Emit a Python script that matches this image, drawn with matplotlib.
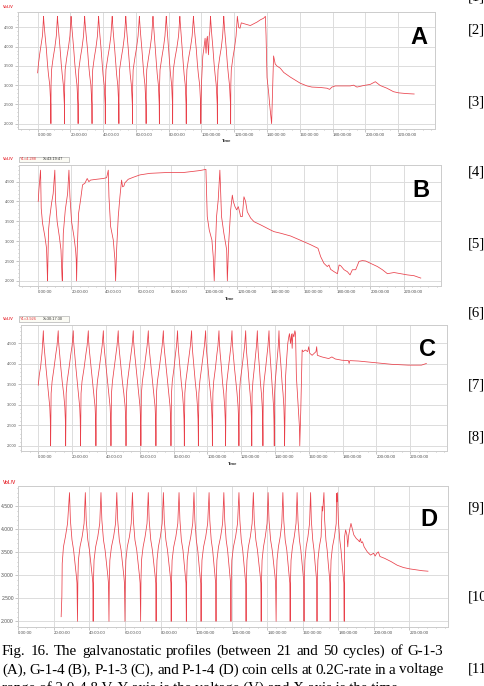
import matplotlib
matplotlib.use('Agg')
import matplotlib.pyplot as plt
import matplotlib.transforms as mtransforms
from matplotlib.patches import Rectangle
from matplotlib.ticker import MultipleLocator

# ---------------- data (time in hours, voltage in V) ----------------
a_time = [
    0.0, 0.5, 1.3, 2.3, 3.0, 3.6,
    3.8, 4.4, 5.3, 6.0, 6.6, 7.4, 7.8, 8.0, 8.1,
    8.2, 8.5, 9.5, 10.5, 11.4, 12.1,
    12.3, 12.9, 13.7, 14.4, 15.0, 15.7, 16.1, 16.3, 16.4,
    16.5, 16.8, 17.8, 18.8, 19.7, 20.4,
    20.6, 21.2, 22.0, 22.7, 23.3, 24.0, 24.4, 24.6, 24.7,
    24.8, 25.1, 26.1, 27.1, 28.0, 28.7,
    28.9, 29.5, 30.4, 31.1, 31.7, 32.5, 32.9, 33.1, 33.2,
    33.3, 33.6, 34.6, 35.6, 36.5, 37.2,
    37.4, 37.9, 38.7, 39.4, 39.9, 40.6, 41.0, 41.2, 41.3,
    41.4, 41.7, 42.8, 43.8, 44.7, 45.5,
    45.7, 46.2, 47.0, 47.7, 48.2, 48.9, 49.3, 49.5, 49.6,
    49.7, 50.0, 51.1, 52.1, 53.0, 53.8,
    54.0, 54.5, 55.3, 56.0, 56.5, 57.2, 57.6, 57.8, 57.9,
    58.0, 58.3, 59.4, 60.4, 61.3, 62.1,
    62.3, 62.8, 63.6, 64.3, 64.8, 65.5, 65.9, 66.1, 66.2,
    66.3, 66.6, 67.7, 68.7, 69.6, 70.4,
    70.6, 71.1, 71.8, 72.5, 73.0, 73.7, 74.0, 74.2, 74.3,
    74.4, 74.7, 75.8, 76.8, 77.7, 78.5,
    78.7, 79.2, 79.9, 80.6, 81.1, 81.8, 82.1, 82.3, 82.4,
    82.5, 82.8, 83.9, 85.0, 86.0, 86.8,
    87.0, 87.5, 88.2, 88.9, 89.4, 90.1, 90.4, 90.6, 90.7,
    90.8, 91.1, 92.2, 93.3, 94.3, 95.1,
    95.3, 95.9, 96.8, 97.5, 98.1, 98.9, 99.3, 99.5, 99.6,
    100.0, 100.8, 101.6, 102.2, 102.8, 103.2, 103.6, 104.3, 104.7, 105.1, 105.5,
    105.7, 106.2, 107.0, 107.7, 108.3, 109.0, 109.4, 109.6, 109.7,
    109.8, 110.1, 111.1, 112.1, 112.9, 113.6,
    113.8, 114.3, 115.1, 115.8, 116.4, 117.1, 117.5, 117.7, 117.8,
    117.9, 118.2, 119.2, 120.2, 121.1, 121.9,
    122.7, 123.5, 124.3, 125.8, 129.8, 133.9, 136.0, 137.9, 139.0,
    139.4, 140.0, 141.0, 141.6, 142.8,
    144.0, 145.0, 146.0, 148.1, 150.2, 154.2, 160.3, 164.4, 167.4, 172.5,
    176.6, 178.2, 179.6, 181.7, 184.7, 190.8, 192.8, 194.9, 198.9, 203.0,
    206.1, 209.1, 213.2, 217.2, 220.3, 225.4, 229.8]
a_volt = [
    3.32, 3.55, 3.82, 4.10, 4.30, 4.79,
    4.65, 4.35, 3.95, 3.55, 3.28, 3.00, 2.70, 2.50, 2.00,
    3.00, 3.40, 3.72, 3.98, 4.28, 4.79,
    4.65, 4.35, 3.95, 3.55, 3.28, 3.00, 2.70, 2.50, 2.00,
    3.00, 3.40, 3.72, 3.98, 4.28, 4.79,
    4.65, 4.35, 3.95, 3.55, 3.28, 3.00, 2.70, 2.50, 2.00,
    3.00, 3.40, 3.72, 3.98, 4.28, 4.79,
    4.65, 4.35, 3.95, 3.55, 3.28, 3.00, 2.70, 2.50, 2.00,
    3.00, 3.40, 3.72, 3.98, 4.28, 4.79,
    4.65, 4.35, 3.95, 3.55, 3.28, 3.00, 2.70, 2.50, 2.00,
    3.00, 3.40, 3.72, 3.98, 4.28, 4.79,
    4.65, 4.35, 3.95, 3.55, 3.28, 3.00, 2.70, 2.50, 2.00,
    3.00, 3.40, 3.72, 3.98, 4.28, 4.79,
    4.65, 4.35, 3.95, 3.55, 3.28, 3.00, 2.70, 2.50, 2.00,
    3.00, 3.40, 3.72, 3.98, 4.28, 4.79,
    4.65, 4.35, 3.95, 3.55, 3.28, 3.00, 2.70, 2.50, 2.00,
    3.00, 3.40, 3.72, 3.98, 4.28, 4.79,
    4.65, 4.35, 3.95, 3.55, 3.28, 3.00, 2.70, 2.50, 2.00,
    3.00, 3.40, 3.72, 3.98, 4.28, 4.79,
    4.65, 4.35, 3.95, 3.55, 3.28, 3.00, 2.70, 2.50, 2.00,
    3.00, 3.40, 3.72, 3.98, 4.28, 4.79,
    4.65, 4.35, 3.95, 3.55, 3.28, 3.00, 2.70, 2.50, 2.00,
    3.00, 3.40, 3.72, 3.98, 4.28, 4.79,
    4.65, 4.35, 3.95, 3.55, 3.28, 3.00, 2.70, 2.50, 2.00,
    3.05, 3.75, 4.00, 4.22, 3.83, 4.18, 4.27, 3.79, 4.27, 4.40, 4.79,
    4.65, 4.35, 3.95, 3.55, 3.28, 3.00, 2.70, 2.50, 2.00,
    3.00, 3.40, 3.72, 3.98, 4.28, 4.79,
    4.65, 4.35, 3.95, 3.55, 3.28, 3.00, 2.70, 2.50, 2.00,
    3.00, 3.40, 3.72, 3.98, 4.28, 4.79,
    4.50, 4.48, 4.62, 4.60, 4.55, 4.64, 4.70, 4.74, 4.79,
    4.30, 3.20, 2.80, 2.50, 2.00,
    3.76, 3.55, 3.50, 3.44, 3.33, 3.21, 3.05, 2.98, 2.95, 2.94,
    2.92, 2.89, 2.95, 2.98, 2.98, 2.98, 3.00, 2.95, 2.99, 3.02,
    3.09, 2.99, 2.92, 2.83, 2.80, 2.78, 2.77]

b_time = [
    0.0, 0.4, 1.4, 1.8, 2.6, 4.0, 5.0, 5.4, 5.6,
    6.2, 7.0, 8.0, 9.0, 10.0,
    10.4, 11.4, 12.7, 13.7, 14.3, 14.5,
    15.1, 16.3, 17.7, 18.5,
    19.1, 20.1, 21.5, 22.5, 22.9, 23.1,
    23.5, 24.3, 25.5, 26.7, 28.1, 29.5, 30.5, 31.5, 35.1, 39.2, 41.2, 42.2,
    42.6, 43.6, 45.2, 46.2, 46.6,
    47.2, 48.2, 49.2, 50.2, 50.8, 51.6, 52.2, 54.2, 57.2, 61.2, 67.3, 77.3,
    87.3, 97.4, 101.0,
    101.8, 103.0, 104.6, 105.4, 106.0,
    106.8, 107.4, 108.4, 109.4,
    110.4, 111.8, 113.5, 113.9,
    114.7, 115.9, 116.9, 117.5, 118.5, 119.5, 120.5, 121.5, 121.9, 122.9,
    123.9, 124.9, 125.9, 128.0, 130.0, 134.0, 140.0, 142.0, 146.0, 152.0,
    158.1, 164.1, 168.5, 170.1, 172.1, 174.1, 175.1, 176.1, 178.2, 180.2,
    181.2, 182.2, 184.2, 186.2, 187.8, 189.2, 191.2, 193.2, 195.2, 197.2,
    200.2, 204.3, 207.3, 210.3, 214.3, 218.3, 222.3, 226.3, 230.4]
b_volt = [
    4.00, 4.29, 4.79, 3.83, 3.45, 3.12, 2.82, 2.28, 2.00,
    3.28, 3.62, 3.95, 4.20, 4.79,
    4.04, 3.49, 3.12, 2.78, 2.11, 2.00,
    3.20, 3.79, 4.20, 4.79,
    4.12, 3.49, 3.12, 2.78, 2.53, 2.00,
    2.78, 3.70, 4.04, 4.42, 4.46, 4.58, 4.50, 4.54, 4.56, 4.58, 4.60, 4.79,
    4.12, 3.37, 3.03, 2.53, 2.00,
    2.78, 3.62, 4.12, 4.54, 4.37, 4.39, 4.47, 4.56, 4.61, 4.67, 4.71, 4.73,
    4.73, 4.78, 4.81,
    3.62, 3.28, 3.03, 2.61, 2.00,
    2.95, 3.62, 4.04, 4.79,
    3.62, 3.20, 2.78, 2.00,
    2.95, 3.79, 4.16, 4.00, 3.87, 3.79, 3.87, 3.70, 3.62, 3.62,
    4.12, 4.00, 3.74, 3.58, 3.49, 3.41, 3.28, 3.24, 3.20, 3.13,
    3.02, 2.91, 2.82, 2.61, 2.44, 2.36, 2.40, 2.29, 2.23, 2.18,
    2.40, 2.38, 2.28, 2.23, 2.15, 2.28, 2.28, 2.49, 2.51, 2.50,
    2.44, 2.36, 2.28, 2.18, 2.21, 2.18, 2.15, 2.13, 2.07]

c_time = [
    0.0, 0.6, 1.4, 2.2, 3.0,
    3.2, 3.7, 4.5, 5.4, 6.1, 6.8, 7.1, 7.25, 7.3,
    7.4, 7.6, 8.2, 9.3, 10.4, 11.1, 11.8,
    12.0, 12.5, 13.3, 14.2, 15.0, 15.7, 16.0, 16.15, 16.2,
    16.3, 16.5, 17.1, 18.2, 19.3, 20.0, 20.7,
    20.9, 21.4, 22.2, 23.1, 23.8, 24.5, 24.8, 24.95, 25.0,
    25.1, 25.3, 25.9, 27.1, 28.2, 28.9, 29.6,
    29.8, 30.3, 31.2, 32.1, 32.8, 33.6, 33.9, 34.05, 34.1,
    34.2, 34.4, 35.0, 36.1, 37.2, 37.8, 38.5,
    38.7, 39.2, 40.1, 41.0, 41.7, 42.5, 42.8, 42.95, 43.0,
    43.1, 43.3, 43.9, 44.9, 46.0, 46.6, 47.3,
    47.5, 48.0, 48.9, 49.8, 50.6, 51.4, 51.7, 51.85, 51.9,
    52.0, 52.2, 52.8, 53.8, 54.9, 55.5, 56.2,
    56.4, 56.9, 57.8, 58.7, 59.4, 60.2, 60.5, 60.65, 60.7,
    60.8, 61.0, 61.6, 62.7, 63.8, 64.4, 65.1,
    65.3, 65.8, 66.7, 67.6, 68.3, 69.1, 69.4, 69.55, 69.6,
    69.7, 69.9, 70.5, 71.6, 72.7, 73.3, 74.0,
    74.2, 74.7, 75.6, 76.5, 77.2, 78.0, 78.3, 78.45, 78.5,
    78.6, 78.8, 79.3, 80.3, 81.2, 81.8, 82.4,
    82.6, 83.0, 83.8, 84.6, 85.3, 85.9, 86.2, 86.35, 86.4,
    86.5, 86.7, 87.3, 88.3, 89.4, 90.0, 90.7,
    90.9, 91.3, 92.1, 92.9, 93.6, 94.2, 94.5, 94.65, 94.7,
    94.8, 95.0, 95.6, 96.6, 97.7, 98.3, 99.0,
    99.2, 99.6, 100.4, 101.2, 101.9, 102.5, 102.8, 102.95, 103.0,
    103.1, 103.3, 103.8, 104.8, 105.7, 106.3, 106.9,
    107.1, 107.5, 108.3, 109.0, 109.7, 110.3, 110.6, 110.75, 110.8,
    110.9, 111.1, 111.6, 112.5, 113.5, 114.0, 114.6,
    114.8, 115.2, 116.0, 116.9, 117.6, 118.2, 118.5, 118.65, 118.7,
    118.8, 119.0, 119.5, 120.5, 121.5, 122.1, 122.7,
    122.9, 123.2, 124.0, 124.7, 125.3, 125.9, 126.1, 126.25, 126.3,
    126.4, 126.5, 127.0, 127.8, 128.6, 129.1, 129.6,
    129.8, 130.1, 130.8, 131.4, 132.0, 132.5, 132.7, 132.85, 132.9,
    133.0, 133.1, 133.6, 134.5, 135.4, 135.9, 136.5,
    136.7, 137.0, 137.6, 138.2, 138.7, 139.2, 139.4, 139.55, 139.6,
    139.7, 139.8, 140.2, 140.9, 141.6, 142.0, 142.4,
    142.6, 142.9, 143.6, 144.2, 144.8, 145.3, 145.5, 145.65, 145.7,
    146.3, 146.9, 147.6, 148.2, 148.6, 149.2, 149.8, 150.2, 150.6, 151.2, 151.8,
    152.2, 152.7, 153.7, 154.5, 154.7,
    155.3, 156.1, 156.7, 158.0, 159.4, 160.0, 160.6, 162.0, 164.3, 164.7,
    165.1, 167.8, 171.8, 173.7, 175.7, 179.6, 183.5, 183.9, 184.3, 189.4,
    199.2, 209.0, 218.8, 226.7, 229.6]
c_volt = [
    3.48, 3.73, 3.93, 4.26, 4.81,
    4.55, 4.30, 3.93, 3.55, 3.28, 2.95, 2.65, 2.30, 2.00,
    2.50, 3.28, 3.58, 3.90, 4.25, 4.45, 4.81,
    4.55, 4.30, 3.93, 3.55, 3.28, 2.95, 2.65, 2.30, 2.00,
    2.50, 3.28, 3.58, 3.90, 4.25, 4.45, 4.81,
    4.55, 4.30, 3.93, 3.55, 3.28, 2.95, 2.65, 2.30, 2.00,
    2.50, 3.28, 3.58, 3.90, 4.25, 4.45, 4.81,
    4.55, 4.30, 3.93, 3.55, 3.28, 2.95, 2.65, 2.30, 2.00,
    2.50, 3.28, 3.58, 3.90, 4.25, 4.45, 4.81,
    4.55, 4.30, 3.93, 3.55, 3.28, 2.95, 2.65, 2.30, 2.00,
    2.50, 3.28, 3.58, 3.90, 4.25, 4.45, 4.81,
    4.55, 4.30, 3.93, 3.55, 3.28, 2.95, 2.65, 2.30, 2.00,
    2.50, 3.28, 3.58, 3.90, 4.25, 4.45, 4.81,
    4.55, 4.30, 3.93, 3.55, 3.28, 2.95, 2.65, 2.30, 2.00,
    2.50, 3.28, 3.58, 3.90, 4.25, 4.45, 4.81,
    4.55, 4.30, 3.93, 3.55, 3.28, 2.95, 2.65, 2.30, 2.00,
    2.50, 3.28, 3.58, 3.90, 4.25, 4.45, 4.81,
    4.55, 4.30, 3.93, 3.55, 3.28, 2.95, 2.65, 2.30, 2.00,
    2.50, 3.28, 3.58, 3.90, 4.25, 4.45, 4.81,
    4.55, 4.30, 3.93, 3.55, 3.28, 2.95, 2.65, 2.30, 2.00,
    2.50, 3.28, 3.58, 3.90, 4.25, 4.45, 4.81,
    4.55, 4.30, 3.93, 3.55, 3.28, 2.95, 2.65, 2.30, 2.00,
    2.50, 3.28, 3.58, 3.90, 4.25, 4.45, 4.81,
    4.55, 4.30, 3.93, 3.55, 3.28, 2.95, 2.65, 2.30, 2.00,
    2.50, 3.28, 3.58, 3.90, 4.25, 4.45, 4.81,
    4.55, 4.30, 3.93, 3.55, 3.28, 2.95, 2.65, 2.30, 2.00,
    2.50, 3.28, 3.58, 3.90, 4.25, 4.45, 4.81,
    4.55, 4.30, 3.93, 3.55, 3.28, 2.95, 2.65, 2.30, 2.00,
    2.50, 3.28, 3.58, 3.90, 4.25, 4.45, 4.81,
    4.55, 4.30, 3.93, 3.55, 3.28, 2.95, 2.65, 2.30, 2.00,
    2.50, 3.28, 3.58, 3.90, 4.25, 4.45, 4.81,
    4.55, 4.30, 3.93, 3.55, 3.28, 2.95, 2.65, 2.30, 2.00,
    2.50, 3.28, 3.58, 3.90, 4.25, 4.45, 4.81,
    4.55, 4.30, 3.93, 3.55, 3.28, 2.95, 2.65, 2.30, 2.00,
    2.50, 3.28, 3.58, 3.90, 4.25, 4.45, 4.81,
    4.55, 4.30, 3.93, 3.55, 3.28, 2.95, 2.65, 2.30, 2.00,
    3.69, 4.09, 4.50, 4.66, 4.74, 4.50, 4.73, 4.38, 4.74, 4.66, 4.81,
    4.74, 3.69, 3.03, 2.46, 2.00,
    2.87, 4.34, 4.30, 4.34, 4.30, 4.42, 4.26, 4.21, 4.30, 4.42,
    4.21, 4.17, 4.13, 4.17, 4.12, 4.09, 4.08, 4.01, 4.08, 4.07,
    4.03, 3.99, 3.97, 3.97, 4.01]

d_time = [
    24.1, 24.5, 24.7, 25.4, 26.5, 27.7, 28.8,
    28.95, 29.3, 30.2, 31.1, 32.0, 32.7, 33.0, 33.3,
    33.5, 33.8, 34.7, 35.9, 37.0, 37.7,
    37.85, 38.2, 39.1, 40.0, 40.9, 41.6, 41.9, 42.1,
    42.3, 42.6, 43.5, 44.7, 45.8, 46.5,
    46.65, 47.0, 47.9, 48.8, 49.7, 50.4, 50.7, 51.0,
    51.2, 51.5, 52.4, 53.6, 54.7, 55.4,
    55.55, 55.9, 56.8, 57.8, 58.7, 59.4, 59.7, 60.0,
    60.2, 60.5, 61.3, 62.5, 63.5, 64.2,
    64.35, 64.7, 65.6, 66.6, 67.5, 68.2, 68.5, 68.8,
    69.0, 69.3, 70.2, 71.3, 72.4, 73.1,
    73.25, 73.6, 74.5, 75.4, 76.3, 77.0, 77.3, 77.5,
    77.7, 78.0, 78.8, 79.9, 80.9, 81.6,
    81.75, 82.1, 83.0, 83.9, 84.8, 85.5, 85.8, 86.0,
    86.2, 86.5, 87.4, 88.6, 89.7, 90.4,
    90.55, 90.9, 91.7, 92.6, 93.4, 94.0, 94.3, 94.5,
    94.7, 95.0, 95.9, 97.0, 98.1, 98.8,
    98.95, 99.3, 100.1, 100.9, 101.7, 102.3, 102.6, 102.8,
    103.0, 103.3, 104.2, 105.4, 106.5, 107.3,
    107.45, 107.7, 108.5, 109.3, 110.1, 110.7, 111.0, 111.2,
    111.4, 111.7, 112.6, 113.8, 114.9, 115.6,
    115.75, 116.1, 116.9, 117.7, 118.5, 119.1, 119.4, 119.6,
    119.8, 120.1, 121.0, 122.2, 123.3, 124.1,
    124.25, 124.6, 125.4, 126.2, 127.0, 127.6, 127.9, 128.1,
    128.3, 128.6, 129.4, 130.5, 131.5, 132.2,
    132.35, 132.7, 133.6, 134.5, 135.4, 136.1, 136.4, 136.6,
    136.8, 137.1, 137.9, 138.9, 139.9, 140.5,
    140.65, 141.0, 141.9, 142.8, 143.7, 144.4, 144.7, 145.0,
    145.2, 145.5, 146.3, 147.3, 148.2, 148.8,
    148.95, 149.3, 150.1, 151.0, 151.8, 152.4, 152.7, 152.9,
    153.1, 153.4, 154.2, 155.2, 156.2, 156.8,
    156.95, 157.3, 158.1, 158.9, 159.7, 160.3, 160.5, 160.7,
    160.9, 161.2, 161.9, 162.9, 163.8, 164.4,
    164.55, 164.8, 165.6, 166.3, 167.0, 167.6, 167.8, 168.0,
    168.2, 168.5, 169.3, 170.3, 170.9, 171.2, 171.9,
    172.05, 172.3, 173.0, 173.7, 174.4, 175.0, 175.2, 175.4,
    175.6, 175.9, 176.7, 177.8, 178.8, 179.0, 179.2, 179.5,
    179.65, 180.0, 180.8, 181.5, 182.2, 182.8, 183.1, 183.3,
    183.5, 184.1, 184.8, 185.3, 185.7, 186.5, 187.1, 188.0, 188.7, 190.1,
    191.0, 191.9, 192.4, 192.9, 193.6, 194.5, 196.3, 198.1, 199.8, 200.7,
    201.6, 202.5, 203.4, 206.0, 209.6, 213.1, 216.6, 220.2, 223.7, 227.3,
    230.4]
d_volt = [
    2.10, 2.54, 3.26, 3.62, 3.84, 4.13, 4.80,
    4.60, 4.20, 3.77, 3.55, 3.22, 2.97, 2.83, 2.00,
    2.90, 3.33, 3.62, 3.84, 4.13, 4.80,
    4.60, 4.20, 3.77, 3.55, 3.22, 2.97, 2.83, 2.00,
    2.90, 3.33, 3.62, 3.84, 4.13, 4.80,
    4.60, 4.20, 3.77, 3.55, 3.22, 2.97, 2.83, 2.00,
    2.90, 3.33, 3.62, 3.84, 4.13, 4.80,
    4.60, 4.20, 3.77, 3.55, 3.22, 2.97, 2.83, 2.00,
    2.90, 3.33, 3.62, 3.84, 4.13, 4.80,
    4.60, 4.20, 3.77, 3.55, 3.22, 2.97, 2.83, 2.00,
    2.90, 3.33, 3.62, 3.84, 4.13, 4.80,
    4.60, 4.20, 3.77, 3.55, 3.22, 2.97, 2.83, 2.00,
    2.90, 3.33, 3.62, 3.84, 4.13, 4.80,
    4.60, 4.20, 3.77, 3.55, 3.22, 2.97, 2.83, 2.00,
    2.90, 3.33, 3.62, 3.84, 4.13, 4.80,
    4.60, 4.20, 3.77, 3.55, 3.22, 2.97, 2.83, 2.00,
    2.90, 3.33, 3.62, 3.84, 4.13, 4.80,
    4.60, 4.20, 3.77, 3.55, 3.22, 2.97, 2.83, 2.00,
    2.90, 3.33, 3.62, 3.84, 4.13, 4.80,
    4.60, 4.20, 3.77, 3.55, 3.22, 2.97, 2.83, 2.00,
    2.90, 3.33, 3.62, 3.84, 4.13, 4.80,
    4.60, 4.20, 3.77, 3.55, 3.22, 2.97, 2.83, 2.00,
    2.90, 3.33, 3.62, 3.84, 4.13, 4.80,
    4.60, 4.20, 3.77, 3.55, 3.22, 2.97, 2.83, 2.00,
    2.90, 3.33, 3.62, 3.84, 4.13, 4.80,
    4.60, 4.20, 3.77, 3.55, 3.22, 2.97, 2.83, 2.00,
    2.90, 3.33, 3.62, 3.84, 4.13, 4.80,
    4.60, 4.20, 3.77, 3.55, 3.22, 2.97, 2.83, 2.00,
    2.90, 3.33, 3.62, 3.84, 4.13, 4.80,
    4.60, 4.20, 3.77, 3.55, 3.22, 2.97, 2.83, 2.00,
    2.90, 3.33, 3.62, 3.84, 4.13, 4.80,
    4.60, 4.20, 3.77, 3.55, 3.22, 2.97, 2.83, 2.00,
    2.90, 3.33, 3.62, 3.84, 4.13, 4.80,
    4.60, 4.20, 3.77, 3.55, 3.22, 2.97, 2.83, 2.00,
    2.90, 3.33, 3.62, 3.84, 4.50, 4.40, 4.80,
    4.60, 4.20, 3.77, 3.55, 3.22, 2.97, 2.83, 2.00,
    2.90, 3.33, 3.62, 3.84, 4.13, 4.78, 4.60, 4.80,
    4.60, 4.20, 3.77, 3.55, 3.22, 2.97, 2.83, 2.00,
    3.84, 3.99, 3.88, 3.62, 3.84, 4.02, 4.13, 3.99, 3.88, 3.80,
    3.77, 3.73, 3.80, 3.71, 3.73, 3.62, 3.51, 3.44, 3.48, 3.42,
    3.48, 3.51, 3.41, 3.37, 3.30, 3.22, 3.17, 3.14, 3.12, 3.10,
    3.09]

hour_ticks = [0, 20, 40, 60, 80, 100, 120, 140, 160, 180, 200, 220]
hour_labels = [f"{h}:00:00" for h in hour_ticks]
volt_ticks = [2.0, 2.5, 3.0, 3.5, 4.0, 4.5]
volt_labels = ["2.000", "2.500", "3.000", "3.500", "4.000", "4.500"]

caption_lines = [
    "Fig. 16. The galvanostatic profiles (between 21 and 50 cycles) of G-1-3",
    "(A), G-1-4 (B), P-1-3 (C), and P-1-4 (D) coin cells at 0.2C-rate in a voltage",
    "range of 2.0-4.8 V. Y axis is the voltage (V) and X axis is the time.",
]
caption_justify = [True, True, False]
ref_labels = ["[1]", "[2]", "[3]", "[4]", "[5]", "[6]", "[7]", "[8]", "[9]", "[10]", "[11]"]
ref_y = [-3, 30, 101.7, 172, 243.5, 312.5, 385, 436.7, 508.3, 596.7, 669]

# ---------------- figure ----------------
W, H = 484, 686
fig = plt.figure(figsize=(W / 100, H / 100), dpi=100)
fig.patch.set_facecolor('white')

LINE = '#e9404a'
GRID = '#dcdcdc'
SANS = ['Liberation Sans', 'DejaVu Sans']
SERIF = ['Liberation Serif', 'DejaVu Serif']
CAP_FS = 10.8


def fx(x):
    return x / W


def fy(y):
    return 1 - y / H


def px_axes(l, r, t, b):
    return fig.add_axes([l / W, 1 - b / H, (r - l) / W, (b - t) / H])


def style(ax, xlim, ylim, ytfs, shift_px):
    ax.set_xlim(*xlim)
    ax.set_ylim(*ylim)
    ax.set_xticks(hour_ticks)
    ax.set_xticklabels(hour_labels, fontsize=3.2, color='#555555', ha='left',
                       family=SANS)
    off = mtransforms.ScaledTranslation(shift_px / 100, 0, fig.dpi_scale_trans)
    for lab in ax.get_xticklabels():
        lab.set_transform(lab.get_transform() + off)
    ax.set_yticks(volt_ticks)
    ax.set_yticklabels(volt_labels, fontsize=ytfs, color='#555555', family=SANS)
    ax.xaxis.set_minor_locator(MultipleLocator(5))
    ax.yaxis.set_minor_locator(MultipleLocator(0.1))
    ax.tick_params(which='major', length=2, width=0.4, color='#999999', pad=1.2)
    ax.tick_params(which='minor', length=1, width=0.4, color='#999999')
    ax.grid(True, which='major', color=GRID, lw=0.7)
    ax.set_axisbelow(True)
    for s in ax.spines.values():
        s.set_color('#cccccc')
        s.set_linewidth(0.7)


# Panel A
axA = px_axes(18.3, 435.3, 11.7, 129)
axA.plot(a_time, a_volt, color=LINE, lw=0.55)
style(axA, (-11.8, 242.7), (1.86, 4.91), 2.9, -3)

# Panel B
axB = px_axes(19.3, 440.7, 165, 286)
axB.plot(b_time, b_volt, color=LINE, lw=0.55)
style(axB, (-11.4, 242.4), (1.87, 4.92), 2.9, -3)

# Panel C
axC = px_axes(20.7, 447, 325, 450.7)
axC.plot(c_time, c_volt, color=LINE, lw=0.55)
style(axC, (-10.4, 241.8), (1.88, 4.95), 2.9, -3)

# Panel D
axD = px_axes(18.3, 447.7, 485.7, 627)
axD.plot(d_time, d_volt, color=LINE, lw=0.55)
style(axD, (13.4, 241.5), (1.876, 4.95), 3.6, -2.5)

# y-axis name, "Time" labels
for yy, fs in [(7.3, 2.9), (159.3, 2.9), (319.5, 2.9), (482.3, 3.5)]:
    fig.text(fx(3.3), fy(yy), "Vol./V", color='#e8333a', fontsize=fs,
             fontweight='bold', family=SANS, ha='left', va='center')
for xx, yy in [(226.5, 140.7), (229.5, 299), (232.5, 464)]:
    fig.text(fx(xx), fy(yy), "Time", color='#333333', fontsize=3.0,
             fontweight='bold', family=SANS, ha='center', va='center')

# cursor read-out boxes (B and C)
for yy, ytxt, xtxt in [(159.2, "Y1=4.288", "X=43:19:47"),
                       (319.0, "Y1=3.926", "X=30:17:30")]:
    fig.patches.append(Rectangle((fx(19), fy(yy + 2.6)), 50 / W, 5.2 / H,
                                 transform=fig.transFigure, fc='#fbfbf4',
                                 ec='#a0a0a0', lw=0.4))
    fig.text(fx(20.3), fy(yy), ytxt, color='#e8333a', fontsize=2.8,
             family=SANS, ha='left', va='center')
    fig.text(fx(43.3), fy(yy), xtxt, color='#333333', fontsize=2.8,
             family=SANS, ha='left', va='center')

# panel letters
for letter, xx, yy in [("A", 419, 38), ("B", 421, 190.5), ("C", 427.5, 350),
                       ("D", 428.5, 519.5)]:
    fig.text(fx(xx), fy(yy), letter, fontsize=17, fontweight='bold',
             family=SANS, ha='center', va='center', color='black')

# reference numbers in the right margin
for lab, yy in zip(ref_labels, ref_y):
    fig.text(fx(468), fy(yy), lab, fontsize=10.6, family=SERIF,
             ha='left', va='center', color='black')

# caption (justified like the printed page)
CAP_LEFT, CAP_RIGHT = 2.0, 443.0
renderer = fig.canvas.get_renderer()
for i, line in enumerate(caption_lines):
    ybase = fy(655.3 + i * 18.2)
    if not caption_justify[i]:
        fig.text(fx(CAP_LEFT), ybase, line, fontsize=CAP_FS, family=SERIF,
                 ha='left', va='baseline', color='black')
        continue
    words = line.split(' ')
    texts = [fig.text(0, ybase, w, fontsize=CAP_FS, family=SERIF, ha='left',
                      va='baseline', color='black') for w in words]
    widths = [t.get_window_extent(renderer).width for t in texts]
    gap = (CAP_RIGHT - CAP_LEFT - sum(widths)) / (len(words) - 1)
    x = CAP_LEFT
    for t, w in zip(texts, widths):
        t.set_x(fx(x))
        x += w + gap

fig.savefig('out.png', dpi=100)
